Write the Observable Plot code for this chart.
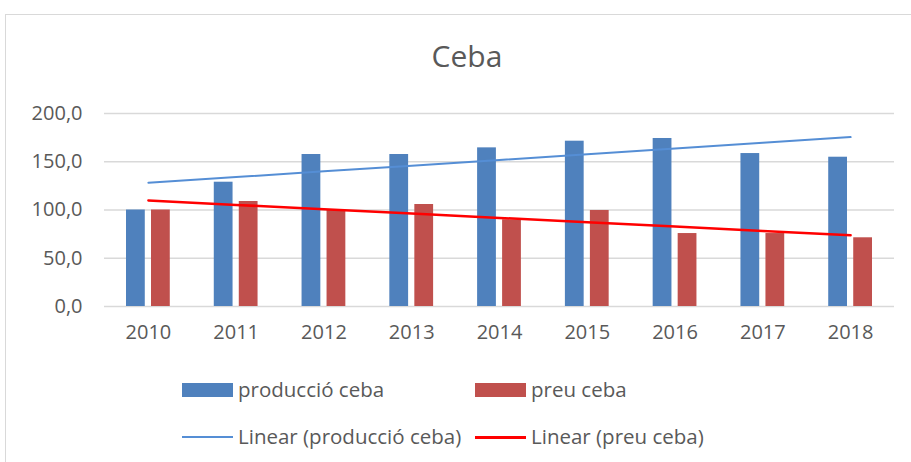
<!DOCTYPE html>
<html>
<head>
<meta charset="utf-8">
<script src="https://cdn.jsdelivr.net/npm/d3@7"></script>
<script src="https://cdn.jsdelivr.net/npm/@observablehq/plot@0.6"></script>
<style>
  html, body { margin: 0; padding: 0; background: #fff; width: 911px; height: 462px; overflow: hidden; }
  body { position: relative; font-family: "Open Sans", sans-serif; color: #595959; }
  #frame { position: absolute; left: 5px; top: 14px; width: 1000px; height: 600px; border: 1px solid #d9d9d9; box-sizing: border-box; }
  #title { position: absolute; left: 0; width: 934px; top: 36px; text-align: center; font-size: 30px; line-height: 40px; color: #595959; }
  #chart { position: absolute; left: 0; top: 95px; }
  .leg { position: absolute; font-size: 20.5px; line-height: 24px; color: #595959; white-space: nowrap; }
  .sw { position: absolute; }
</style>
</head>
<body>
<div id="frame"></div>
<div id="title">Ceba</div>
<div id="chart"></div>
<div id="legend"></div>
<script>
const years = [2010, 2011, 2012, 2013, 2014, 2015, 2016, 2017, 2018];
const produccio = [100, 128.8, 157.5, 157.5, 164.4, 171.3, 174.1, 158.5, 154.7];
const preu = [100, 108.8, 100, 105.7, 89.8, 99.5, 75.6, 75.6, 71.2];
const seriesNames = ["producció ceba", "preu ceba"];
const trendNames = ["Linear (producció ceba)", "Linear (preu ceba)"];
const yTicks = [0, 50, 100, 150, 200];

const barColors = ["#4F81BD", "#C0504D"];
const lineColors = ["#558ED5", "#FF0000"];

function regression(xs, ys) {
  const n = xs.length;
  const mx = d3.mean(xs), my = d3.mean(ys);
  let sxy = 0, sxx = 0;
  for (let i = 0; i < n; i++) { sxy += (xs[i] - mx) * (ys[i] - my); sxx += (xs[i] - mx) ** 2; }
  const b = sxy / sxx, a = my - b * mx;
  return xs.map(x => ({year: x, value: a + b * x}));
}

const prodRows = years.map((y, i) => ({year: y, value: produccio[i]}));
const preuRows = years.map((y, i) => ({year: y, value: preu[i]}));
const prodTrend = regression(years, produccio);
const preuTrend = regression(years, preu);

const fmt = v => d3.format(".1f")(v).replace(".", ",");

const chart = Plot.plot({
  width: 911,
  height: 261,
  marginLeft: 104,
  marginRight: 17,
  marginTop: 18,
  marginBottom: 50,
  style: {fontFamily: "Open Sans, sans-serif", fontSize: "20px", color: "#595959", background: "transparent"},
  x: {type: "band", domain: years, padding: 0, round: false, label: null, tickSize: 0, tickPadding: 18, tickFormat: d => String(d)},
  y: {domain: [0, 200], ticks: yTicks, tickFormat: fmt, label: null, tickSize: 0, tickPadding: 22},
  marks: [
    Plot.ruleY(yTicks, {stroke: "#d9d9d9", strokeWidth: 1.5}),
    Plot.barY(prodRows, {x: "year", y: "value", fill: barColors[0], insetLeft: 22, insetRight: 47}),
    Plot.barY(preuRows, {x: "year", y: "value", fill: barColors[1], insetLeft: 47, insetRight: 22}),
    Plot.line(prodTrend, {x: "year", y: "value", stroke: lineColors[0], strokeWidth: 2}),
    Plot.line(preuTrend, {x: "year", y: "value", stroke: lineColors[1], strokeWidth: 2.5})
  ]
});
document.getElementById("chart").appendChild(chart);

// legend
const legend = document.getElementById("legend");
const items = [
  {label: seriesNames[0], kind: "box", color: barColors[0], x: 182, y: 390},
  {label: seriesNames[1], kind: "box", color: barColors[1], x: 475, y: 390},
  {label: trendNames[0], kind: "line", color: lineColors[0], x: 182, y: 437},
  {label: trendNames[1], kind: "line", color: lineColors[1], x: 475, y: 437}
];
for (const it of items) {
  const sw = document.createElement("div");
  sw.className = "sw";
  sw.style.left = it.x + "px";
  sw.style.width = "51px";
  if (it.kind === "box") {
    sw.style.top = (it.y - 7) + "px";
    sw.style.height = "14px";
  } else {
    sw.style.top = (it.y - 1) + "px";
    sw.style.height = it.color === "#FF0000" ? "2.5px" : "2px";
  }
  sw.style.background = it.color;
  legend.appendChild(sw);
  const t = document.createElement("div");
  t.className = "leg";
  t.style.left = (it.x + 56) + "px";
  t.style.top = (it.y - 13) + "px";
  t.textContent = it.label;
  legend.appendChild(t);
}
</script>
</body>
</html>
